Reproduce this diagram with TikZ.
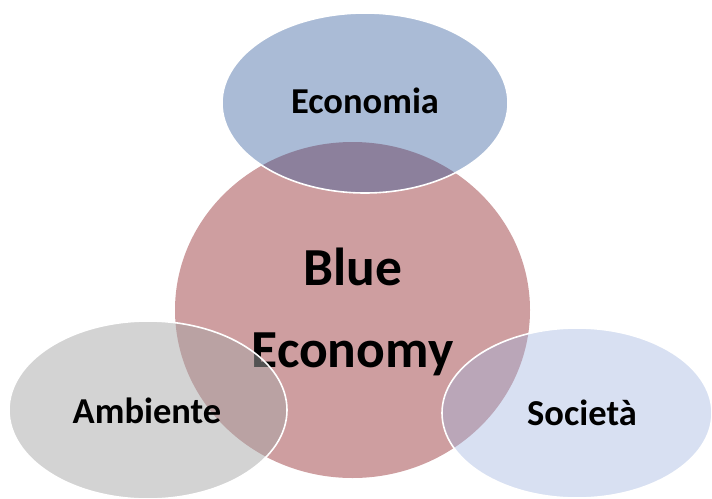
\documentclass[tikz,border=0pt]{standalone}
\usepackage{fontspec}
\setmainfont{Carlito}
\definecolor{coreRed}{RGB}{206,158,160}
\definecolor{econBlue}{RGB}{42,85,152}
\definecolor{ambGray}{RGB}{167,167,167}
\definecolor{socBlue}{RGB}{157,178,222}
\tikzset{
  petal/.style={draw=white, line width=1.6pt, fill opacity=#1},
  label/.style={anchor=base, font=\bfseries\fontsize{36.5}{42}\selectfont}
}
\begin{document}
\begin{tikzpicture}[x=1pt, y=-1pt]
\useasboundingbox (0,0) rectangle (712,498);
\coordinate (C) at (352.5, 310);
\coordinate (E) at (365, 103);
\coordinate (A) at (148, 410);
\coordinate (S) at (577, 413);

% central circle and its title
\fill[coreRed] (C) ellipse [x radius=177.5, y radius=168];
\node[anchor=base, font=\bfseries\fontsize{53.5}{60}\selectfont] (blue) at (352.5, 285) {Blue};
\node[anchor=base, font=\bfseries\fontsize{53.5}{60}\selectfont] (economy) at (352.5, 367) {Economy};

% the three pillars, half see-through
\filldraw[petal=0.4, fill=econBlue] (E) ellipse [x radius=143, y radius=90];
\filldraw[petal=0.5, fill=ambGray] (A) ellipse [x radius=139, y radius=89];
\filldraw[petal=0.4, fill=socBlue] (S) ellipse [x radius=135, y radius=85];

\node[label] (economia) at (365, 113) {Economia};
\node[label] (ambiente) at (147, 423) {Ambiente};
\node[label] (societa) at (582, 425) {Società};
\end{tikzpicture}
\end{document}
